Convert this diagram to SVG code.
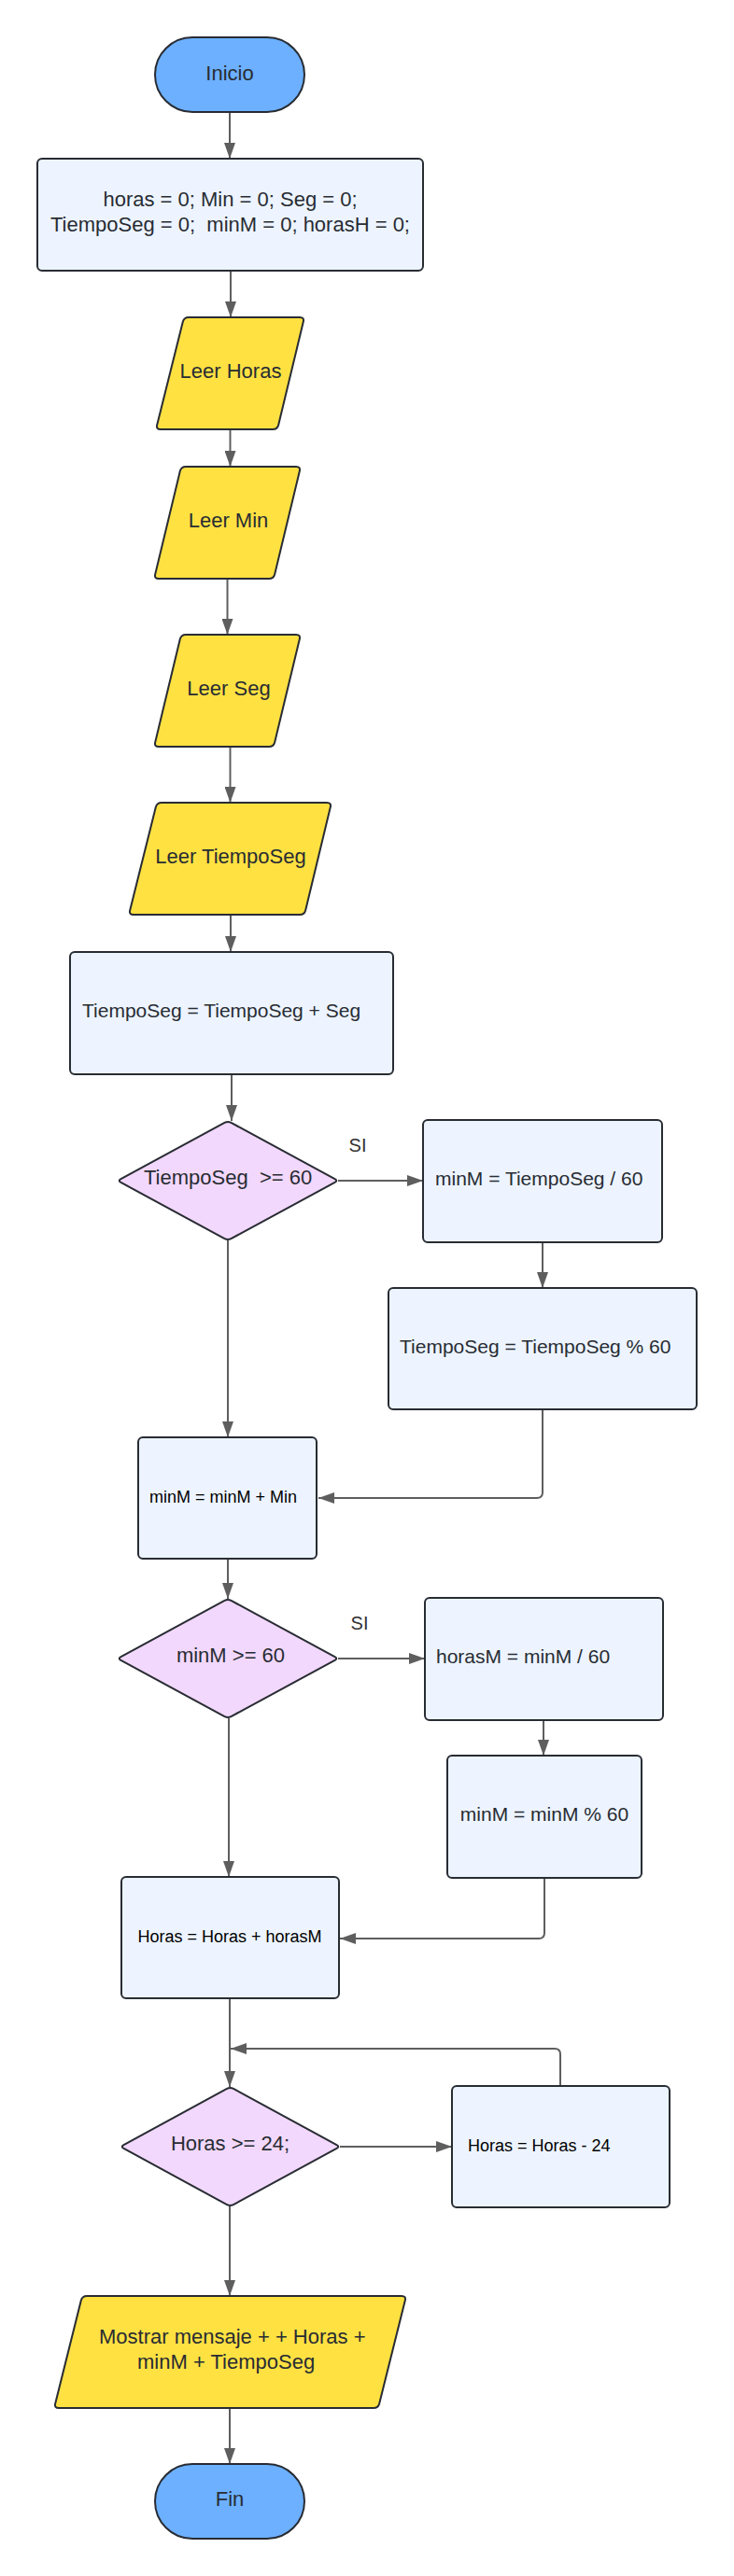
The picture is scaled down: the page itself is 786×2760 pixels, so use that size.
<svg xmlns="http://www.w3.org/2000/svg" width="786" height="2760" viewBox="0 0 786 2760">
<defs>
<marker id="arr" markerUnits="userSpaceOnUse" markerWidth="18" markerHeight="12" refX="17" refY="6" orient="auto">
<path d="M0,0 L17,6 L0,12 z" fill="#5e5e5e"/>
</marker>
<style>
.term{fill:#6cb0ff;stroke:#282c33;stroke-width:2}
.proc{fill:#edf4ff;stroke:#282c33;stroke-width:2}
.io{fill:#ffe142;stroke:#282c33;stroke-width:2;stroke-linejoin:round}
.dec{fill:#f2d8fc;stroke:#282c33;stroke-width:2;stroke-linejoin:round}
.t{font-family:"Liberation Sans",Arial,sans-serif;font-size:22px;fill:#282c33;dominant-baseline:central}
.m{font-size:21px}
.s{font-size:18px;fill:#000}
.c{text-anchor:middle}
.lbl{font-family:"Liberation Sans",Arial,sans-serif;font-size:20px;fill:#333;text-anchor:middle;dominant-baseline:central}
.con{fill:none;stroke:#5e5e5e;stroke-width:2;stroke-linejoin:round;marker-end:url(#arr)}
</style>
</defs>
<rect width="786" height="2760" fill="#ffffff"/>

<g id="connectors">
<path class="con" d="M246,120 V170"/>
<path class="con" d="M247,290 V340"/>
<path class="con" d="M246.5,460 V500"/>
<path class="con" d="M243.5,620 V680"/>
<path class="con" d="M246.5,800 V860"/>
<path class="con" d="M247,980 V1020"/>
<path class="con" d="M248,1151 V1201"/>
<path class="con" d="M362,1265 H453"/>
<path class="con" d="M581,1331 V1380"/>
<path class="con" d="M581,1510 V1599 Q581,1605 575,1605 H341"/>
<path class="con" d="M244,1329 V1540"/>
<path class="con" d="M244,1670 V1713"/>
<path class="con" d="M362,1777 H455"/>
<path class="con" d="M582,1843 V1881"/>
<path class="con" d="M583,2012 V2071 Q583,2077 577,2077 H364"/>
<path class="con" d="M245,1841 V2011"/>
<path class="con" d="M246,2141 V2236"/>
<path class="con" d="M600,2235 V2201 Q600,2195 594,2195 H247"/>
<path class="con" d="M364,2300 H484"/>
<path class="con" d="M246,2364 V2460"/>
<path class="con" d="M246,2580 V2640"/>
</g>

<text class="lbl" x="383" y="1227">SI</text>
<text class="lbl" x="385" y="1739">SI</text>

<g id="inicio">
<rect class="term" x="166" y="40" width="160" height="80" rx="40"/>
<text class="t c" x="246" y="78">Inicio</text>
</g>

<g id="init">
<rect class="proc" x="40" y="170" width="413" height="120" rx="5"/>
<text class="t c" x="246.5" y="213">horas = 0; Min = 0; Seg = 0;</text>
<text class="t c" x="246.5" y="240" xml:space="preserve">TiempoSeg = 0;  minM = 0; horasH = 0;</text>
</g>

<g id="leerHoras">
<path class="io" d="M202,340 H321 Q326,340 324.8,344.85 L298.2,455.15 Q297,460 292,460 H172 Q167,460 168.2,455.15 L195.8,344.85 Q197,340 202,340 Z"/>
<text class="t c" x="247" y="397">Leer Horas</text>
</g>

<g id="leerMin">
<path class="io" d="M199,500 H317 Q322,500 320.8,504.85 L294.2,615.15 Q293,620 288,620 H170 Q165,620 166.2,615.15 L192.8,504.85 Q194,500 199,500 Z"/>
<text class="t c" x="244.5" y="557">Leer Min</text>
</g>

<g id="leerSeg">
<path class="io" d="M199,680 H317 Q322,680 320.8,684.85 L294.2,795.15 Q293,800 288,800 H170 Q165,800 166.2,795.15 L192.8,684.85 Q194,680 199,680 Z"/>
<text class="t c" x="245" y="737">Leer Seg</text>
</g>

<g id="leerTiempoSeg">
<path class="io" d="M173,860 H350 Q355,860 353.8,864.85 L327.2,975.15 Q326,980 321,980 H143 Q138,980 139.2,975.15 L166.8,864.85 Q168,860 173,860 Z"/>
<text class="t c" x="247" y="917">Leer TiempoSeg</text>
</g>

<g id="sumaSeg">
<rect class="proc" x="75" y="1020" width="346" height="131" rx="5"/>
<text class="t m" x="88" y="1082">TiempoSeg = TiempoSeg + Seg</text>
</g>

<g id="dec1">
<path class="dec" d="M247.5,1202.9 L358.5,1263.1 Q362,1265 358.5,1266.9 L247.5,1327.1 Q244,1329 240.5,1327.1 L129.5,1266.9 Q126,1265 129.5,1263.1 L240.5,1202.9 Q244,1201 247.5,1202.9 Z"/>
<text class="t" x="154" y="1261" xml:space="preserve">TiempoSeg  &gt;= 60</text>
</g>

<g id="minDiv">
<rect class="proc" x="453" y="1200" width="256" height="131" rx="5"/>
<text class="t m" x="466" y="1262">minM = TiempoSeg / 60</text>
</g>

<g id="segMod">
<rect class="proc" x="416" y="1380" width="330" height="130" rx="5"/>
<text class="t m" x="428" y="1442">TiempoSeg = TiempoSeg % 60</text>
</g>

<g id="minSum">
<rect class="proc" x="148" y="1540" width="191" height="130" rx="5"/>
<text class="t s" x="160" y="1604">minM = minM + Min</text>
</g>

<g id="dec2">
<path class="dec" d="M247.5,1714.9 L358.5,1775.1 Q362,1777 358.5,1778.9 L247.5,1839.1 Q244,1841 240.5,1839.1 L129.5,1778.9 Q126,1777 129.5,1775.1 L240.5,1714.9 Q244,1713 247.5,1714.9 Z"/>
<text class="t c" x="247" y="1773">minM &gt;= 60</text>
</g>

<g id="horasDiv">
<rect class="proc" x="455" y="1712" width="255" height="131" rx="5"/>
<text class="t m" x="467" y="1774">horasM = minM / 60</text>
</g>

<g id="minMod">
<rect class="proc" x="479" y="1881" width="208" height="131" rx="5"/>
<text class="t m c" x="583" y="1943">minM = minM % 60</text>
</g>

<g id="horasSum">
<rect class="proc" x="130" y="2011" width="233" height="130" rx="5"/>
<text class="t s c" x="246" y="2075">Horas = Horas + horasM</text>
</g>

<g id="dec3">
<path class="dec" d="M250,2237.9 L360.5,2298.1 Q364,2300 360.5,2301.9 L250,2362.1 Q246.5,2364 243,2362.1 L132.5,2301.9 Q129,2300 132.5,2298.1 L243,2237.9 Q246.5,2236 250,2237.9 Z"/>
<text class="t c" x="246.5" y="2296">Horas &gt;= 24;</text>
</g>

<g id="horasRes">
<rect class="proc" x="484" y="2235" width="233" height="130" rx="5"/>
<text class="t s" x="501" y="2299">Horas = Horas - 24</text>
</g>

<g id="mostrar">
<path class="io" d="M93,2460 H430 Q435,2460 433.8,2464.85 L406.2,2575.15 Q405,2580 400,2580 H63 Q58,2580 59.2,2575.15 L86.8,2464.85 Q88,2460 93,2460 Z"/>
<text class="t" x="106" y="2503">Mostrar mensaje + + Horas +</text>
<text class="t" x="147" y="2530">minM + TiempoSeg</text>
</g>

<g id="fin">
<rect class="term" x="166" y="2640" width="160" height="80" rx="40"/>
<text class="t c" x="246" y="2677">Fin</text>
</g>
</svg>
